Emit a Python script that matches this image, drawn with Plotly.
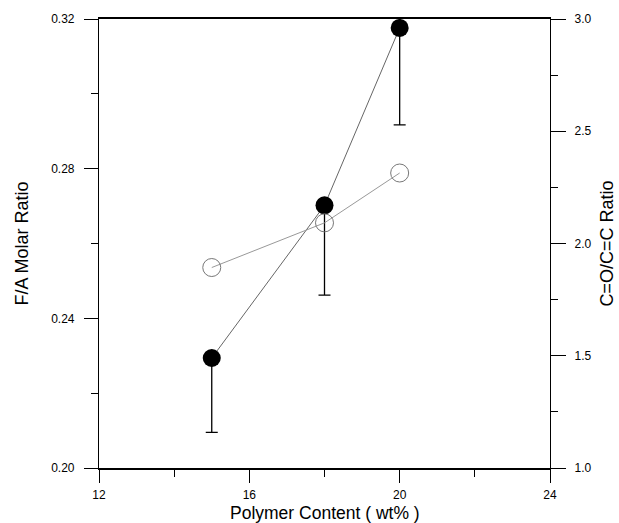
import plotly.graph_objects as go

polymer_content = [15, 18, 20]
fa_ratio = [0.2294, 0.2702, 0.3176]
fa_err_minus = [0.0199, 0.0240, 0.0259]
co_cc_ratio = [1.893, 2.092, 2.314]

x_ticks = [12, 16, 20, 24]
y_ticks = [0.20, 0.24, 0.28, 0.32]
y2_ticks = [1.0, 1.5, 2.0, 2.5, 3.0]

fig = go.Figure()

fig.add_trace(go.Scatter(
    x=polymer_content, y=co_cc_ratio, yaxis="y2",
    mode="lines+markers",
    line=dict(color="#999999", width=1),
    marker=dict(symbol="circle-open", size=18, color="#777777", line=dict(width=1)),
    showlegend=False,
))

fig.add_trace(go.Scatter(
    x=polymer_content, y=fa_ratio,
    mode="lines+markers",
    line=dict(color="#666666", width=1),
    marker=dict(symbol="circle", size=18, color="black"),
    error_y=dict(type="data", symmetric=False, array=[0, 0, 0], arrayminus=fa_err_minus,
                 color="black", thickness=1.3, width=6),
    showlegend=False,
))

font = dict(family="Liberation Sans, Arial, sans-serif", color="black")

fig.update_layout(
    width=619, height=523,
    margin=dict(l=99, r=69, t=17, b=55),
    paper_bgcolor="white", plot_bgcolor="white",
    font=dict(size=12, **font),
    xaxis=dict(
        range=[12, 24], tickvals=x_ticks, ticktext=[str(v) for v in x_ticks],
        showline=True, linecolor="black", linewidth=1.5, mirror=True,
        ticks="outside", ticklen=13, tickcolor="black", tickwidth=1,
        minor=dict(ticks="outside", ticklen=7, dtick=2, tick0=12, tickcolor="black"),
        showgrid=False, zeroline=False, ticklabelstandoff=2,
        tickfont=dict(size=12, **font),
    ),
    yaxis=dict(
        range=[0.20, 0.32], tickvals=y_ticks, ticktext=["%.2f" % v for v in y_ticks],
        showline=True, linecolor="black", linewidth=1.2,
        ticks="outside", ticklen=14, tickcolor="black", tickwidth=1,
        minor=dict(ticks="outside", ticklen=7, dtick=0.02, tick0=0.20, tickcolor="black"),
        showgrid=False, zeroline=False, ticklabelstandoff=7,
        tickfont=dict(size=12, **font),
    ),
    yaxis2=dict(
        range=[1.0, 3.0], tickvals=y2_ticks, ticktext=["%.1f" % v for v in y2_ticks],
        overlaying="y", side="right",
        showline=True, linecolor="black", linewidth=1.2,
        ticks="outside", ticklen=15, tickcolor="black", tickwidth=1,
        minor=dict(ticks="outside", ticklen=7, dtick=0.25, tick0=1.0, tickcolor="black"),
        showgrid=False, zeroline=False, ticklabelstandoff=6,
        tickfont=dict(size=12, **font),
    ),
    annotations=[
        dict(text="F/A Molar Ratio", xref="paper", yref="paper", x=0, y=0.5,
             xanchor="center", yanchor="middle", xshift=-78, textangle=-90,
             showarrow=False, font=dict(size=18, **font)),
        dict(text="C=O/C=C Ratio", xref="paper", yref="paper", x=1, y=0.5,
             xanchor="center", yanchor="middle", xshift=56, textangle=-90,
             showarrow=False, font=dict(size=18, **font)),
        dict(text="Polymer Content ( wt% )", xref="paper", yref="paper", x=0.5, y=0,
             xanchor="center", yanchor="middle", yshift=-45,
             showarrow=False, font=dict(size=17.5, **font)),
    ],
)

fig.write_html("out.html", config={"displayModeBar": False},
               post_script="document.body.style.margin='0';document.body.style.overflow='hidden';")
